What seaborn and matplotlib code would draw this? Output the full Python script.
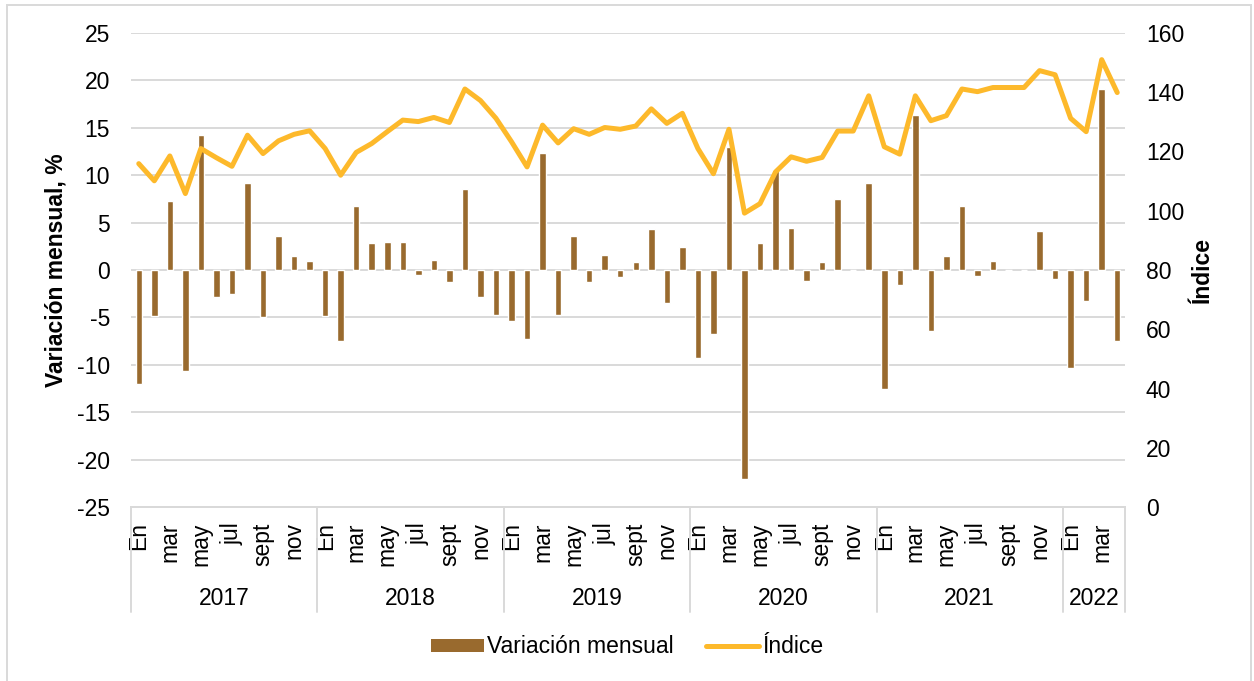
import numpy as np
import pandas as pd
import matplotlib
matplotlib.use('Agg')
import matplotlib.pyplot as plt
import matplotlib.transforms as mtrans
from matplotlib.patches import Patch, Rectangle
from matplotlib.lines import Line2D
import seaborn as sns

# monthly data, Jan 2017 - Apr 2022
years = ['2017', '2018', '2019', '2020', '2021', '2022']
months_per_year = [12, 12, 12, 12, 12, 4]
month_labels = ['En', '', 'mar', '', 'may', '', 'jul', '', 'sept', '', 'nov', '']

variacion = [
    -12.0, -4.9, 7.3, -10.7, 14.2, -2.8, -2.5, 9.2, -5.0, 3.6, 1.5, 0.9,
    -4.8, -7.5, 6.7, 2.8, 3.0, 3.0, -0.5, 1.1, -1.3, 8.5, -2.9, -4.7,
    -5.4, -7.3, 12.3, -4.7, 3.6, -1.3, 1.6, -0.7, 0.8, 4.3, -3.5, 2.4,
    -9.3, -6.8, 13.0, -22.0, 2.8, 10.6, 4.4, -1.2, 0.8, 7.5, 0.0, 9.2,
    -12.6, -1.6, 16.3, -6.4, 1.5, 6.7, -0.6, 0.9, 0.0, 0.0, 4.1, -1.0,
    -10.3, -3.3, 19.1, -7.5,
]
indice = [
    115.9, 110.1, 118.5, 105.8, 121.0, 117.9, 115.0, 125.5, 119.3, 123.6, 125.8, 127.0,
    121.0, 112.0, 119.7, 122.7, 126.7, 130.6, 130.1, 131.5, 129.8, 141.1, 137.2, 131.2,
    123.3, 114.8, 128.9, 122.9, 127.7, 125.8, 128.1, 127.5, 128.6, 134.4, 129.5, 132.9,
    121.0, 112.5, 127.5, 99.2, 102.4, 113.1, 118.2, 116.7, 118.0, 126.9, 126.9, 138.8,
    121.6, 119.1, 138.8, 130.4, 132.1, 141.1, 140.2, 141.6, 141.6, 141.6, 147.3, 145.9,
    131.2, 126.7, 151.0, 139.9,
]

BAR_COLOR = '#996A2E'
LINE_COLOR = '#FDB92B'
GRID = '#D9D9D9'
FS = 16.5

n = len(variacion)
pos = np.arange(n)
tick_labels = []
for cnt in months_per_year:
    tick_labels += month_labels[:cnt]

df = pd.DataFrame({'pos': pos, 'variacion': variacion, 'indice': indice})

sns.set_style('white')
plt.rcParams['font.family'] = ['Liberation Sans', 'DejaVu Sans']
plt.rcParams['axes.unicode_minus'] = False
plt.rcParams['text.color'] = 'black'
plt.rcParams['axes.labelcolor'] = 'black'
plt.rcParams['xtick.color'] = 'black'
plt.rcParams['ytick.color'] = 'black'

fig = plt.figure(figsize=(12.54, 6.81), dpi=100)
ax = fig.add_axes([131 / 1254, 1 - 507 / 681, 994 / 1254, 474 / 681])

sns.barplot(data=df, x='pos', y='variacion', ax=ax, color=BAR_COLOR,
            saturation=1, width=0.42, errorbar=None)
ax2 = ax.twinx()
sns.lineplot(data=df, x='pos', y='indice', ax=ax2, color=LINE_COLOR, lw=3.6)

ax.set_xlim(-0.5, n - 0.5)
ax.set_ylim(-25, 25)
ax.set_yticks(range(-25, 26, 5))
ax2.set_ylim(0, 160)
ax2.set_yticks(range(0, 161, 20))

ax.yaxis.grid(True, color=GRID, lw=1.4)
ax.set_axisbelow(True)
for a in (ax, ax2):
    for s in ('top', 'left', 'right'):
        a.spines[s].set_visible(False)
    a.spines['bottom'].set_color(GRID)
    a.spines['bottom'].set_linewidth(1.4)

ax.set_xticks(pos)
ax.set_xticklabels(tick_labels, rotation=90, fontsize=FS)
ax.tick_params(axis='x', length=0, pad=11)
ax.tick_params(axis='y', length=0, pad=15, labelsize=FS)
ax2.tick_params(axis='y', length=0, pad=15, labelsize=FS)
ax2.set_xlabel('')
ax.set_xlabel('')

ax.set_ylabel('Variación mensual, %', fontsize=FS, fontweight='bold')
ax.yaxis.set_label_coords(-0.064, 0.5)
ax2.set_ylabel('Índice', fontsize=FS, fontweight='bold')
ax2.yaxis.set_label_coords(1.066, 0.5)

# year groups under the month labels
trans = mtrans.blended_transform_factory(ax.transData, ax.transAxes)
start = 0
bounds = [-0.5]
for yr, cnt in zip(years, months_per_year):
    ax.text(start + (cnt - 1) / 2, -0.192, yr, transform=trans,
            ha='center', va='center', fontsize=FS)
    start += cnt
    bounds.append(start - 0.5)
for b in bounds:
    ax.plot([b, b], [0, -0.222], transform=trans, color=GRID, lw=1.4,
            clip_on=False)

handles = [Patch(facecolor=BAR_COLOR, edgecolor='none'),
           Line2D([], [], color=LINE_COLOR, lw=3.6)]
fig.legend(handles, ['Variación mensual', 'Índice'], loc='center',
           bbox_to_anchor=(0.5, 0.05), ncol=2, frameon=False, fontsize=FS,
           handlelength=2.3, handleheight=0.5, handletextpad=0.15,
           columnspacing=1.4)

fig.patches.append(Rectangle((7 / 1254, -0.01), 1244 / 1254, 1 - 5 / 681 + 0.01,
                             transform=fig.transFigure, fill=False,
                             edgecolor=GRID, lw=1.4))

fig.savefig('out.png', dpi=100)
